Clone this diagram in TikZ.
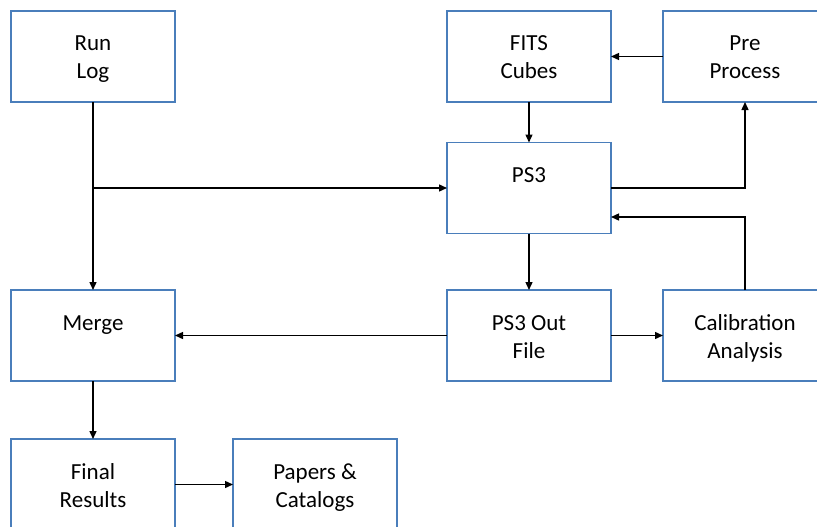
\documentclass[tikz,border=0pt]{standalone}
\usepackage{fontspec}
\setmainfont{Carlito}
\usetikzlibrary{arrows.meta,calc}

\definecolor{boxblue}{HTML}{4A7EBB}

% fixed-size box content: text starts near the top, centred
\newcommand{\boxtext}[1]{%
  \begin{minipage}[c][91pt][t]{164pt}\centering
  \fontsize{23pt}{28pt}\selectfont\rule{0pt}{40pt}#1\end{minipage}}

\tikzset{
  stagebox/.style={draw=boxblue, line width=1.3pt, fill=white,
    inner sep=0pt, outer sep=0pt},
  flow/.style={draw=black, line width=1.4pt,
    -{Triangle[length=8pt,width=7pt]}}
}

\begin{document}
\begin{tikzpicture}[x=1pt, y=-1pt]
  \fill[white] (0,0) rectangle (817,527);
  \clip (0,0) rectangle (817,527);

  % boxes
  \node[stagebox] (runlog) at (93,56.5)   {\boxtext{Run\\Log}};
  \node[stagebox] (fits)   at (529,56.5)  {\boxtext{FITS\\Cubes}};
  \node[stagebox] (pre)    at (745,56.5)  {\boxtext{Pre\\Process}};
  \node[stagebox] (ps3)    at (529,188)   {\boxtext{PS3}};
  \node[stagebox] (merge)  at (93,335.5)  {\boxtext{Merge}};
  \node[stagebox] (ps3out) at (529,335.5) {\boxtext{PS3 Out\\File}};
  \node[stagebox] (calib)  at (745,335.5) {\boxtext{Calibration\\Analysis}};
  \node[stagebox] (final)  at (93,484.5)  {\boxtext{Final\\Results}};
  \node[stagebox] (papers) at (315,484.5) {\boxtext{Papers \&\\Catalogs}};

  % branch point on the run log line, and the return point into PS3
  \coordinate (branch) at (runlog.south |- ps3.west);
  \coordinate (retpt)  at ($(ps3.east)+(0,29)$);

  % connectors
  \draw[flow] (runlog.south) -- (merge.north);
  \draw[flow] (branch) -- (ps3.west);
  \draw[flow] (pre.west) -- (fits.east);
  \draw[flow] (fits.south) -- (ps3.north);
  \draw[flow] (ps3.east) -| (pre.south);
  \draw[flow] (calib.north) |- (retpt);
  \draw[flow] (ps3.south) -- (ps3out.north);
  \draw[flow] (ps3out.west) -- (merge.east);
  \draw[flow] (ps3out.east) -- (calib.west);
  \draw[flow] (merge.south) -- (final.north);
  \draw[flow] (final.east) -- (papers.west);
\end{tikzpicture}
\end{document}
